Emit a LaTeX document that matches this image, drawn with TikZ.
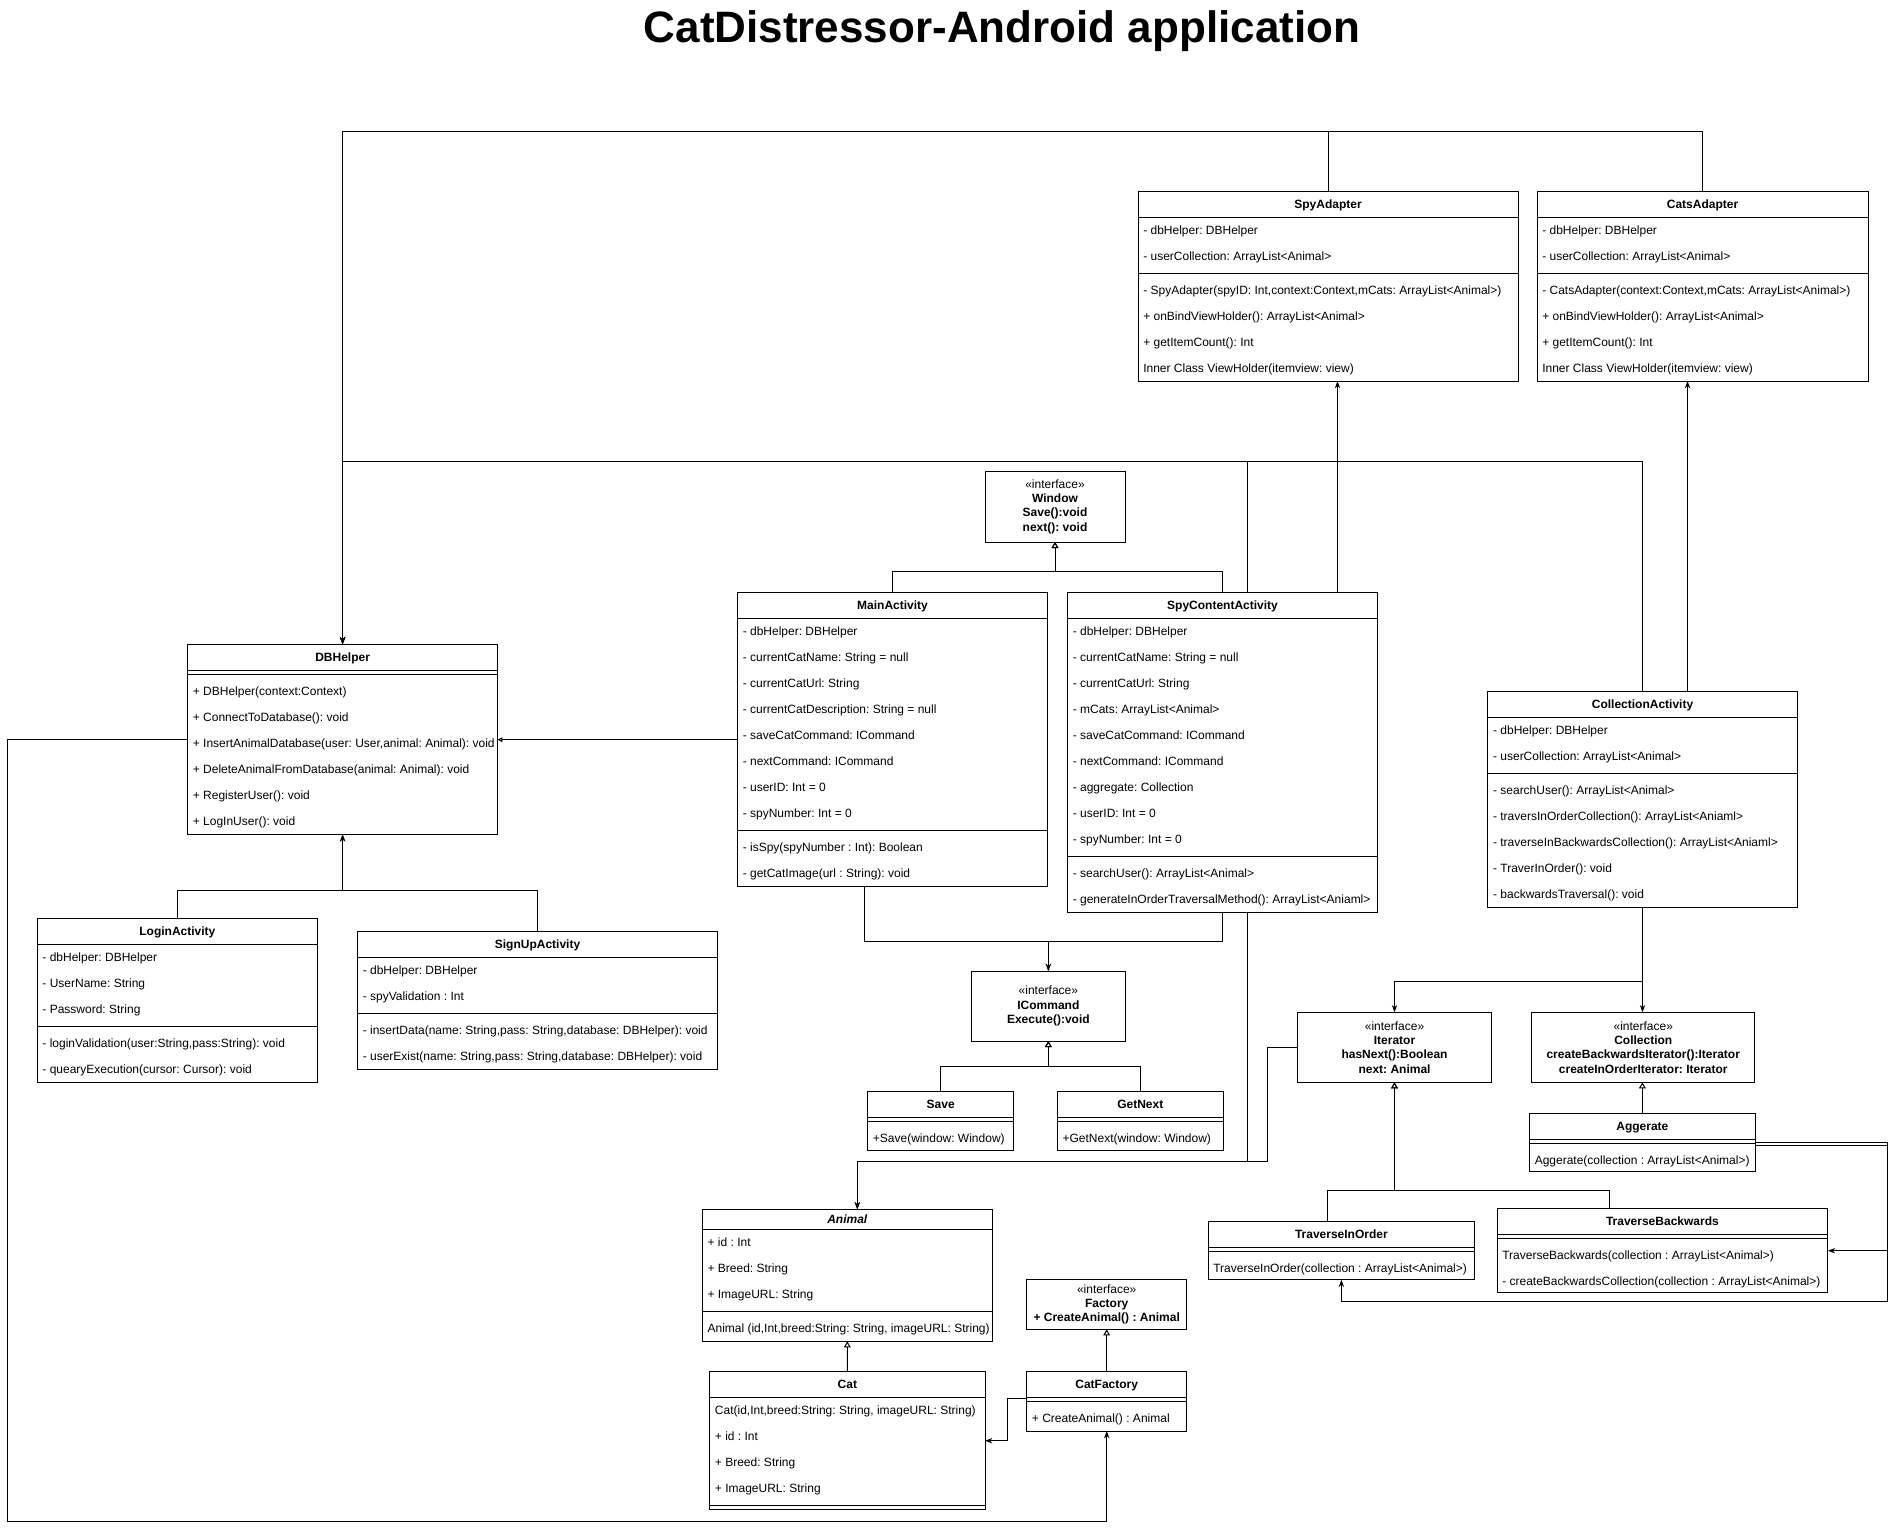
\documentclass[tikz,border=0pt]{standalone}
\usepackage{fontspec}
\setmainfont{Liberation Sans}
\usetikzlibrary{arrows.meta,calc}
\frenchspacing

\tikzset{
  classbox/.style={draw, rectangle, anchor=north west, inner sep=0pt, outer sep=0pt, line width=0.75pt},
  boxsize/.style 2 args={minimum width=#1*0.75pt, minimum height=#2*0.75pt},
  ifacebox/.style={classbox, align=center, font=\fontsize{9}{10.7}\selectfont},
  ctitle/.style={anchor=base, inner sep=0pt, font=\fontsize{9}{11}\selectfont\bfseries},
  member/.style={anchor=base west, inner sep=0pt, font=\fontsize{9}{11}\selectfont},
  link/.style={line width=0.75pt},
  assoc/.style={link, -{Stealth[length=5.5pt,width=4pt]}},
  inherit/.style={link, -{Triangle[open,length=4.5pt,width=5pt]}},
  uses/.style={link, -{Triangle[open,length=3.5pt,width=3.5pt]}},
}

% rows of a class box: class, tag, centre of first row below the top, list
\newcommand{\members}[4]{%
  \foreach \m [count=\k from 0] in {#4}
    \node[member] (#1-#2\k) at ($(#1.north west)+(5,#3+4.2+26*\k)$) {\m};}
% divider line inside a class box
\newcommand{\divider}[2]{%
  \draw[link] ($(#1.north west)+(0,#2)$) -- ($(#1.north east)+(0,#2)$);}

\begin{document}
\begin{tikzpicture}[x=0.75pt, y=-0.75pt]

\fill[white] (0,0) rectangle (1898,1532);
\node[anchor=base, inner sep=0pt, font=\fontsize{33}{40}\selectfont\bfseries] (title) at (1002,42.4) {CatDistressor-Android application};

% adapters
\node[classbox, boxsize={380}{190}] (spy) at (1138,191) {};
\node[ctitle] (spy-t) at ($(spy.north)+(0,17.2)$) {SpyAdapter};
\divider{spy}{26} \divider{spy}{82}
\members{spy}{a}{39}{{- dbHelper: DBHelper},{- userCollection: ArrayList<Animal>}}
\members{spy}{m}{99}{{- SpyAdapter(spyID: Int,context:Context,mCats: ArrayList<Animal>)},{+ onBindViewHolder(): ArrayList<Animal>},{+ getItemCount(): Int},{Inner Class ViewHolder(itemview: view)}}

\node[classbox, boxsize={331}{190}] (cats) at (1537,191) {};
\node[ctitle] (cats-t) at ($(cats.north)+(0,17.2)$) {CatsAdapter};
\divider{cats}{26} \divider{cats}{82}
\members{cats}{a}{39}{{- dbHelper: DBHelper},{- userCollection: ArrayList<Animal>}}
\members{cats}{m}{99}{{- CatsAdapter(context:Context,mCats: ArrayList<Animal>)},{+ onBindViewHolder(): ArrayList<Animal>},{+ getItemCount(): Int},{Inner Class ViewHolder(itemview: view)}}

% activities
\node[ifacebox, boxsize={140}{71}] (win) at (985,471) {«interface»\\\textbf{Window}\\\textbf{Save():void}\\\textbf{next(): void}};

\node[classbox, boxsize={310}{294}] (main) at (737.5,592.7) {};
\node[ctitle] (main-t) at ($(main.north)+(0,17.2)$) {MainActivity};
\divider{main}{26} \divider{main}{238}
\members{main}{a}{39}{{- dbHelper: DBHelper},{- currentCatName: String = null},{- currentCatUrl: String},{- currentCatDescription: String = null},{- saveCatCommand: ICommand},{- nextCommand: ICommand},{- userID: Int = 0},{- spyNumber: Int = 0}}
\members{main}{m}{255}{{- isSpy(spyNumber : Int): Boolean},{- getCatImage(url : String): void}}

\node[classbox, boxsize={310}{320}] (spyc) at (1067.5,592.7) {};
\node[ctitle] (spyc-t) at ($(spyc.north)+(0,17.2)$) {SpyContentActivity};
\divider{spyc}{26} \divider{spyc}{264}
\members{spyc}{a}{39}{{- dbHelper: DBHelper},{- currentCatName: String = null},{- currentCatUrl: String},{- mCats: ArrayList<Animal>},{- saveCatCommand: ICommand},{- nextCommand: ICommand},{- aggregate: Collection},{- userID: Int = 0},{- spyNumber: Int = 0}}
\members{spyc}{m}{281}{{- searchUser(): ArrayList<Animal>},{- generateInOrderTraversalMethod(): ArrayList<Aniaml>}}

\node[classbox, boxsize={309.4}{216}] (colact) at (1487.8,691.7) {};
\node[ctitle] (colact-t) at ($(colact.north)+(0,17.2)$) {CollectionActivity};
\divider{colact}{26} \divider{colact}{82}
\members{colact}{a}{39}{{- dbHelper: DBHelper},{- userCollection: ArrayList<Animal>}}
\members{colact}{m}{99}{{- searchUser(): ArrayList<Animal>},{- traversInOrderCollection(): ArrayList<Aniaml>},{- traverseInBackwardsCollection(): ArrayList<Aniaml>},{- TraverInOrder(): void},{- backwardsTraversal(): void}}

% database side
\node[classbox, boxsize={310}{190}] (dbh) at (187.6,644.3) {};
\node[ctitle] (dbh-t) at ($(dbh.north)+(0,17.2)$) {DBHelper};
\divider{dbh}{26} \divider{dbh}{30}
\members{dbh}{m}{47}{{+ DBHelper(context:Context)},{+ ConnectToDatabase(): void},{+ InsertAnimalDatabase(user: User,animal: Animal): void},{+ DeleteAnimalFromDatabase(animal: Animal): void},{+ RegisterUser(): void},{+ LogInUser(): void}}

\node[classbox, boxsize={280.3}{164}] (login) at (37.2,918.7) {};
\node[ctitle] (login-t) at ($(login.north)+(0,17.2)$) {LoginActivity};
\divider{login}{26} \divider{login}{108}
\members{login}{a}{39}{{- dbHelper: DBHelper},{- UserName: String},{- Password: String}}
\members{login}{m}{125}{{- loginValidation(user:String,pass:String): void},{- quearyExecution(cursor: Cursor): void}}

\node[classbox, boxsize={360}{138}] (signup) at (357.5,931.7) {};
\node[ctitle] (signup-t) at ($(signup.north)+(0,17.2)$) {SignUpActivity};
\divider{signup}{26} \divider{signup}{82}
\members{signup}{a}{39}{{- dbHelper: DBHelper},{- spyValidation : Int}}
\members{signup}{m}{99}{{- insertData(name: String,pass: String,database: DBHelper): void},{- userExist(name: String,pass: String,database: DBHelper): void}}

% commands
\node[ifacebox, boxsize={154.7}{70}] (icmd) at (971,971) {«interface»\\\textbf{ICommand}\\\textbf{Execute():void}};

\node[classbox, boxsize={146}{59}] (save) at (867.7,1091.3) {};
\node[ctitle] (save-t) at ($(save.north)+(0,17.2)$) {Save};
\divider{save}{26} \divider{save}{30}
\members{save}{m}{47}{{+Save(window: Window)}}

\node[classbox, boxsize={166}{59}] (getnext) at (1057.3,1091.3) {};
\node[ctitle] (getnext-t) at ($(getnext.north)+(0,17.2)$) {GetNext};
\divider{getnext}{26} \divider{getnext}{30}
\members{getnext}{m}{47}{{+GetNext(window: Window)}}

% iterator
\node[ifacebox, boxsize={193.4}{70}] (iter) at (1297.8,1012.3) {«interface»\\\textbf{Iterator}\\\textbf{hasNext():Boolean}\\\textbf{next: Animal}};
\node[ifacebox, boxsize={223.3}{70}] (coll) at (1531.6,1012.3) {«interface»\\\textbf{Collection}\\\textbf{createBackwardsIterator():Iterator}\\\textbf{createInOrderIterator: Iterator}};

\node[classbox, boxsize={225.7}{58}] (agg) at (1529.5,1113.3) {};
\node[ctitle] (agg-t) at ($(agg.north)+(0,17.2)$) {Aggerate};
\divider{agg}{26} \divider{agg}{30}
\members{agg}{m}{47}{{Aggerate(collection : ArrayList<Animal>)}}

\node[classbox, boxsize={266.7}{58}] (tio) at (1208,1221.7) {};
\node[ctitle] (tio-t) at ($(tio.north)+(0,17.2)$) {TraverseInOrder};
\divider{tio}{26} \divider{tio}{30}
\members{tio}{m}{47}{{TraverseInOrder(collection : ArrayList<Animal>)}}

\node[classbox, boxsize={330.8}{84}] (tbw) at (1497,1208.7) {};
\node[ctitle] (tbw-t) at ($(tbw.north)+(0,17.2)$) {TraverseBackwards};
\divider{tbw}{26} \divider{tbw}{30}
\members{tbw}{m}{47}{{TraverseBackwards(collection : ArrayList<Animal>)},{- createBackwardsCollection(collection : ArrayList<Animal>)}}

% animals
\node[classbox, boxsize={290}{132}] (animal) at (702.3,1209.3) {};
\node[ctitle, font=\fontsize{9}{11}\selectfont\bfseries\itshape] (animal-t) at ($(animal.north)+(0,14.2)$) {Animal};
\divider{animal}{20} \divider{animal}{102}
\members{animal}{a}{33}{{+ id : Int},{+ Breed: String},{+ ImageURL: String}}
\members{animal}{m}{119}{{Animal (id,Int,breed:String: String, imageURL: String)}}

\node[classbox, boxsize={275.3}{138}] (cat) at (709.7,1371.7) {};
\node[ctitle] (cat-t) at ($(cat.north)+(0,17.2)$) {Cat};
\divider{cat}{26} \divider{cat}{134}
\members{cat}{a}{39}{{Cat(id,Int,breed:String: String, imageURL: String)},{+ id : Int},{+ Breed: String},{+ ImageURL: String}}

\node[ifacebox, boxsize={160}{50}] (fact) at (1026.7,1279.3) {«interface»\\\textbf{Factory}\\\textbf{+ CreateAnimal() : Animal}};

\node[classbox, boxsize={160}{59.3}] (catf) at (1026.7,1371.7) {};
\node[ctitle] (catf-t) at ($(catf.north)+(0,17.2)$) {CatFactory};
\divider{catf}{26} \divider{catf}{30}
\members{catf}{m}{47}{{+ CreateAnimal() : Animal}}

% routing lines
\coordinate (topbus) at (0,131);
\coordinate (midbus) at (0,461.5);
\coordinate (winbus) at (0,571);
\coordinate (dbbus) at (0,890);
\coordinate (cmdbus) at (0,941);
\coordinate (colbus) at (0,981.7);
\coordinate (savebus) at (0,1066);
\coordinate (anbus) at (0,1161.3);
\coordinate (itbus) at (0,1190.7);
\coordinate (tiobus) at (0,1301.7);
\coordinate (lowbus) at (0,1521);
\coordinate (leftx) at (7.7,0);
\coordinate (rightx) at (1887.3,0);

% everything that holds a DBHelper
\draw[assoc] (spy.north) |- (topbus -| dbh.north) -- (dbh.north);
\draw[assoc] (cats.north) |- (topbus -| dbh.north) -- (dbh.north);
\draw[assoc] ($(spyc.north)+(25,0)$) |- (midbus -| dbh.north) -- (dbh.north);
\draw[assoc] (colact.north) |- (midbus -| dbh.north) -- (dbh.north);
\draw[assoc] (login.north) |- (dbbus -| dbh.south) -- (dbh.south);
\draw[assoc] (signup.north) |- (dbbus -| dbh.south) -- (dbh.south);
\draw[uses] (main.west) -- (main.west -| dbh.east);
\draw[assoc] (dbh.west) -- (dbh.west -| leftx) |- (lowbus -| catf.south) -- (catf.south);

% adapters
\coordinate (sa) at ($(spyc.north)+(115,0)$);
\coordinate (ca) at ($(colact.north)+(45,0)$);
\draw[assoc] (sa) -- (sa |- spy.south);
\draw[assoc] (ca) -- (ca |- cats.south);

% window and commands
\draw[inherit] (main.north) |- (winbus -| win.south) -- (win.south);
\draw[inherit] (spyc.north) |- (winbus -| win.south) -- (win.south);
\draw[assoc] ($(main.south)+(-28.5,0)$) |- (cmdbus -| icmd.north) -- (icmd.north);
\draw[assoc] (spyc.south) |- (cmdbus -| icmd.north) -- (icmd.north);
\draw[inherit] (save.north) |- (savebus -| icmd.south) -- (icmd.south);
\draw[inherit] (getnext.north) |- (savebus -| icmd.south) -- (icmd.south);

% animals
\coordinate (an) at ($(animal.north)+(10,0)$);
\draw[assoc] ($(spyc.south)+(25,0)$) |- (anbus -| an) -- (an);
\draw[assoc] (iter.west) -- ++(-30.5,0) |- (anbus -| an) -- (an);
\draw[inherit] (cat.north) -- (animal.south);
\draw[inherit] (catf.north) -- (fact.south);
\draw[assoc] ($(catf.north west)+(0,27)$) -- ++(-19,0) |- (cat.east);

% iterator and collection
\draw[assoc] (colact.south) |- (colbus -| iter.north) -- (iter.north);
\draw[assoc] (colact.south) -- (colact.south |- coll.north);
\draw[inherit] (agg.north) -- (agg.north |- coll.south);
\draw[inherit] ($(tio.north)+(-13.5,0)$) |- (itbus -| iter.south) -- (iter.south);
\draw[inherit] ($(tbw.north)+(-52.8,0)$) |- (itbus -| iter.south) -- (iter.south);
\draw[assoc] ($(agg.north east)+(0,29.4)$) -| (rightx |- tbw.east) -- (tbw.east);
\draw[assoc] ($(agg.north east)+(0,31.7)$) -| (rightx |- tiobus) -| (tio.south);

\end{tikzpicture}
\end{document}
